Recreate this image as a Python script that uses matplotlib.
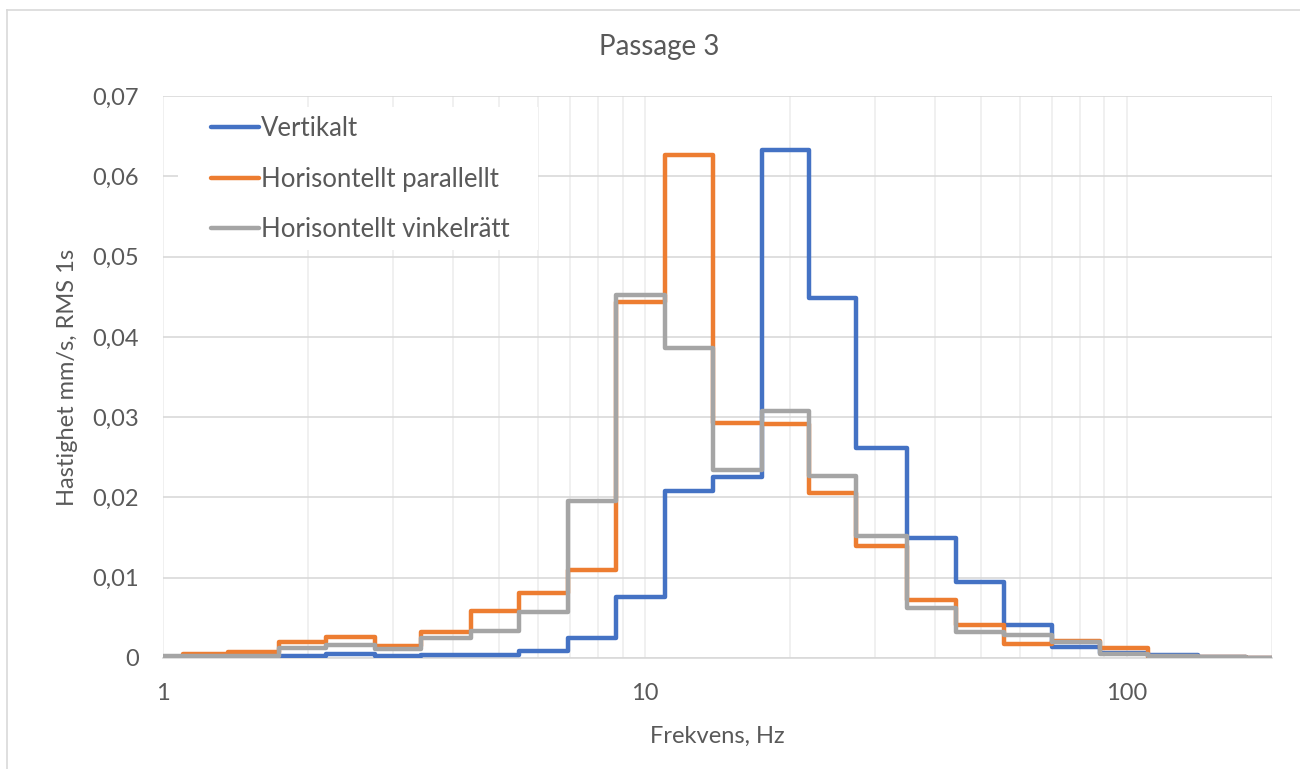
import matplotlib
matplotlib.use("Agg")
import matplotlib.pyplot as plt
from matplotlib.ticker import FixedLocator, FuncFormatter, NullFormatter
from matplotlib.lines import Line2D
from matplotlib.patches import Rectangle
import numpy as np

plt.rcParams['font.family'] = ['Lato', 'DejaVu Sans']

# One-third octave band edges (Hz) and band RMS velocity (mm/s)
band_edges = [1.0, 1.10, 1.37, 1.74, 2.18, 2.76, 3.44, 4.37, 5.50, 6.93, 8.74,
              11.0, 13.9, 17.5, 21.9, 27.5, 35.0, 44.2, 55.6, 70.0, 88.2,
              110.7, 140.6, 177.1, 200.0]

vertikalt = [0.0001, 0.0002, 0.0002, 0.0003, 0.0005, 0.0003, 0.0004, 0.0004,
             0.0009, 0.0025, 0.0076, 0.0208, 0.0225, 0.0633, 0.0449, 0.0261,
             0.0150, 0.0095, 0.0041, 0.0014, 0.0006, 0.0004, 0.0001, 0.0000]

hor_parallellt = [0.0000, 0.0005, 0.0008, 0.0020, 0.0026, 0.0015, 0.0032, 0.0058,
                  0.0081, 0.0110, 0.0443, 0.0626, 0.0293, 0.0291, 0.0205, 0.0139,
                  0.0072, 0.0041, 0.0018, 0.0021, 0.0013, 0.0001, 0.0001, 0.0000]

hor_vinkelratt = [0.0003, 0.0003, 0.0003, 0.0013, 0.0016, 0.0011, 0.0025, 0.0034,
                  0.0057, 0.0196, 0.0452, 0.0386, 0.0234, 0.0308, 0.0227, 0.0152,
                  0.0062, 0.0032, 0.0029, 0.0020, 0.0005, 0.0002, 0.0001, 0.0000]

series_names = ["Vertikalt", "Horisontellt parallellt", "Horisontellt vinkelrätt"]
series_colors = ["#4472C4", "#ED7D31", "#A5A5A5"]

TEXT = "#595959"
W, H = 1300, 769
fig = plt.figure(figsize=(W / 100, H / 100), dpi=100)

# outer chart frame (top and left edges)
fig.add_artist(Line2D([7 / W, 1.0], [1 - 10 / H, 1 - 10 / H], color="#D9D9D9", lw=1.2))
fig.add_artist(Line2D([7 / W, 7 / W], [0.0, 1 - 10 / H], color="#D9D9D9", lw=1.2))

x0, x1 = 162.6, 1271.6
y_top, y_bot = 96, 658
ax = fig.add_axes([x0 / W, (H - y_bot) / H, (x1 - x0) / W, (y_bot - y_top) / H])


def px_to_axes(px, py):
    return (px - x0) / (x1 - x0), (y_bot - py) / (y_bot - y_top)


ax.set_xscale("log")
ax.set_xlim(1, 200)
ax.set_ylim(0, 0.07)

edges = np.array(band_edges)
for name, vals, col in zip(series_names, [vertikalt, hor_parallellt, hor_vinkelratt], series_colors):
    line = ax.stairs(np.asarray(vals), edges, color=col, lw=3.2, label=name,
                     zorder=3, baseline=None)
    line.set_joinstyle("round")
    line.set_capstyle("round")

# grid
ax.set_yticks(np.arange(0, 0.0701, 0.01))
ax.yaxis.set_major_formatter(FuncFormatter(
    lambda v, p: "0" if abs(v) < 1e-9 else f"{v:.2f}".replace(".", ",")))
ax.xaxis.set_major_locator(FixedLocator([1, 10, 100]))
ax.xaxis.set_major_formatter(FuncFormatter(lambda v, p: f"{v:g}"))
minor = [m * d for d in (1, 10, 100) for m in range(2, 10) if m * d <= 200]
ax.xaxis.set_minor_locator(FixedLocator(minor))
ax.xaxis.set_minor_formatter(NullFormatter())

ax.grid(axis="y", which="major", color="#D9D9D9", lw=1.2, zorder=0)
ax.grid(axis="x", which="both", color="#EDEDED", lw=1.2, zorder=0)
ax.set_axisbelow(True)

for s in ["top", "right", "left"]:
    ax.spines[s].set_visible(False)
ax.spines["bottom"].set_color("#D9D9D9")
ax.spines["bottom"].set_linewidth(1.2)
ax.spines["bottom"].set_zorder(1)

ax.tick_params(axis="both", which="both", length=0, colors=TEXT, labelsize=17)
ax.tick_params(axis="y", pad=17)
ax.tick_params(axis="x", pad=18)

ax.set_xlabel("Frekvens, Hz", color=TEXT, fontsize=17, labelpad=16)
ax.set_ylabel("Hastighet mm/s, RMS 1s", color=TEXT, fontsize=17, labelpad=10)

fig.text(659 / W, 1 - 47 / H, "Passage 3", ha="center", va="center",
         color=TEXT, fontsize=20)

# white backing behind the legend entries
bx0, by0 = px_to_axes(178, 250)
bx1, by1 = px_to_axes(538, 107)
ax.add_patch(Rectangle((bx0, by0), bx1 - bx0, by1 - by0, transform=ax.transAxes,
                       facecolor="white", edgecolor="none", zorder=2))

handles = [Line2D([], [], color=c, lw=3.2, solid_capstyle="round") for c in series_colors]
leg = ax.legend(handles, series_names, loc="upper left",
                bbox_to_anchor=px_to_axes(211, 116),
                frameon=False, fontsize=18.5, handlelength=1.85, handletextpad=0.1,
                labelspacing=1.0, borderpad=0, borderaxespad=0)
for t in leg.get_texts():
    t.set_color(TEXT)
leg.set_zorder(5)

fig.savefig("out.png", dpi=100)
